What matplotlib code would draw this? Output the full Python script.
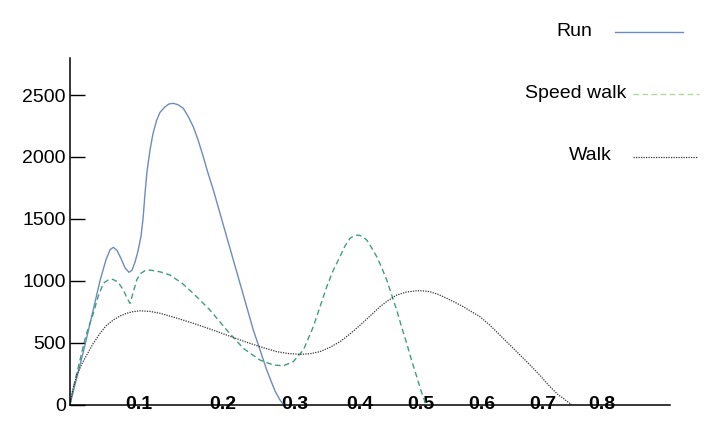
import numpy as np
import matplotlib
matplotlib.use('Agg')
import matplotlib.pyplot as plt
from matplotlib.lines import Line2D

# 数据
run_x = [0, 0.0217, 0.0435, 0.0522, 0.058, 0.0628, 0.0681, 0.0739, 0.0797, 0.0855,
         0.0899, 0.0942, 0.0986, 0.1024, 0.1048, 0.1071, 0.1095, 0.1131, 0.1167,
         0.1211, 0.125, 0.131, 0.1357, 0.1408, 0.1464, 0.1527, 0.1583, 0.1646,
         0.1702, 0.1765, 0.1821, 0.1885, 0.1964, 0.2051, 0.2236, 0.2421, 0.2607,
         0.2722, 0.2792, 0.2838]
run_y = [0, 480, 1000, 1170, 1250, 1270, 1245, 1180, 1105, 1068,
         1085, 1150, 1240, 1360, 1500, 1700, 1880, 2056, 2190,
         2298, 2360, 2405, 2428, 2433, 2422, 2393, 2330, 2244,
         2140, 2002, 1870, 1733, 1545, 1355, 979, 602, 279,
         110, 36, 0]

speed_x = [0, 0.0072, 0.0145, 0.0232, 0.0338, 0.0406, 0.0483, 0.0551, 0.0619, 0.0696,
           0.0773, 0.0826, 0.087, 0.0913, 0.0967, 0.1012, 0.1071, 0.1131, 0.125,
           0.1369, 0.1512, 0.1646, 0.1845, 0.2051, 0.2282, 0.2514, 0.2699, 0.2838,
           0.2976, 0.3128, 0.3282, 0.3385, 0.3488, 0.3585, 0.3692, 0.3769, 0.3846,
           0.3908, 0.3974, 0.4041, 0.411, 0.418, 0.4274, 0.4352, 0.4438, 0.4516,
           0.4602, 0.468, 0.4766, 0.4844, 0.493, 0.5, 0.5082]
speed_y = [0, 190, 360, 560, 737, 870, 979, 1005, 1011, 990,
           925, 860, 817, 900, 1006, 1055, 1081, 1086, 1072,
           1046, 980, 898, 763, 602, 454, 359, 319, 313,
           346, 440, 628, 790, 951, 1080, 1194, 1280, 1342,
           1362, 1369, 1358, 1329, 1275, 1194, 1110, 1006, 890,
           763, 630, 494, 360, 225, 110, 0]

walk_x = [0, 0.0043, 0.0101, 0.0174, 0.0242, 0.0333, 0.0435, 0.0522, 0.0628, 0.0725,
          0.0822, 0.0913, 0.1012, 0.1131, 0.125, 0.144, 0.1646, 0.1845, 0.2051,
          0.2278, 0.2514, 0.2746, 0.2903, 0.3077, 0.3231, 0.3385, 0.3538, 0.3692,
          0.3846, 0.4, 0.4164, 0.4328, 0.4459, 0.4602, 0.4754, 0.4929, 0.5033,
          0.5148, 0.5279, 0.5421, 0.5557, 0.5693, 0.5828, 0.5967, 0.6131, 0.6295,
          0.6459, 0.6623, 0.6787, 0.6951, 0.7068, 0.7175, 0.7254, 0.7344, 0.7407,
          0.7486]
walk_y = [0, 130, 240, 330, 400, 490, 575, 635, 683, 715,
          737, 750, 757, 752, 737, 700, 656, 610, 561,
          513, 467, 427, 412, 405, 410, 427, 462, 507,
          570, 640, 715, 790, 840, 884, 908, 919, 918,
          911, 890, 858, 825, 790, 750, 709, 640, 560,
          480, 400, 320, 235, 170, 117, 80, 50, 25,
          0]

x_ticks = [0.1, 0.2, 0.3, 0.4, 0.5, 0.6, 0.7, 0.8]
x_labels = ['0.1', '0.2', '0.3', '0.4', '0.5', '0.6', '0.7', '0.8']
y_ticks = [0, 500, 1000, 1500, 2000, 2500]

# 横轴刻度间距不均匀
scale_vals = [0, 0.1, 0.2, 0.3, 0.4, 0.5, 0.6, 0.7, 0.8, 0.915]
scale_pos = [0, 69, 153, 225, 290, 351, 412, 473, 532, 600]


def fwd(x):
    return np.interp(x, scale_vals, scale_pos)


def inv(p):
    return np.interp(p, scale_pos, scale_vals)


plt.rcParams['font.family'] = ['Liberation Sans', 'DejaVu Sans']

fig = plt.figure(figsize=(7.09, 4.28), dpi=100)
ax = fig.add_axes([70 / 709, 1 - 404.5 / 428, 600 / 709, 346.6 / 428])

ax.plot(run_x, run_y, color='#6c8cbf', lw=1.0)
ax.plot(speed_x, speed_y, color='#3f9e7e', lw=1.0, ls=(0, (4, 2.5)))
ax.plot(walk_x, walk_y, color='#333333', lw=0.9, ls=(0, (1, 1)))

ax.set_xscale('function', functions=(fwd, inv))
ax.set_xlim(0, 0.915)
ax.set_ylim(0, 2800)
ax.set_xticks(x_ticks)
ax.set_xticklabels(x_labels, fontsize=14, fontweight='bold')
ax.xaxis.set_minor_locator(plt.NullLocator())
ax.set_yticks(y_ticks)
ax.tick_params(axis='x', length=0, pad=-6)
ax.tick_params(axis='y', direction='in', length=11, width=1, labelsize=14, pad=3)

for s in ['top', 'right']:
    ax.spines[s].set_visible(False)
for s in ['left', 'bottom']:
    ax.spines[s].set_linewidth(1.1)

# 图例（手动摆放）
H = 428.0
W = 709.0
fig.text(592 / W, 1 - 32 / H, 'Run', ha='right', va='center', fontsize=14)
fig.text(626 / W, 1 - 93 / H, 'Speed walk', ha='right', va='center', fontsize=14)
fig.text(612 / W, 1 - 155 / H, 'Walk', ha='right', va='center', fontsize=14)
fig.add_artist(Line2D([615 / W, 683 / W], [1 - 32.3 / H, 1 - 32.3 / H],
                      color='#6c8cbf', lw=1.0))
fig.add_artist(Line2D([633 / W, 699 / W], [1 - 94.3 / H, 1 - 94.3 / H],
                      color='#b9d39a', lw=1.0, ls=(0, (4, 2.5))))
fig.add_artist(Line2D([633 / W, 698 / W], [1 - 156.7 / H, 1 - 156.7 / H],
                      color='#333333', lw=0.9, ls=(0, (1, 1))))

plt.savefig('out.png', dpi=100)
